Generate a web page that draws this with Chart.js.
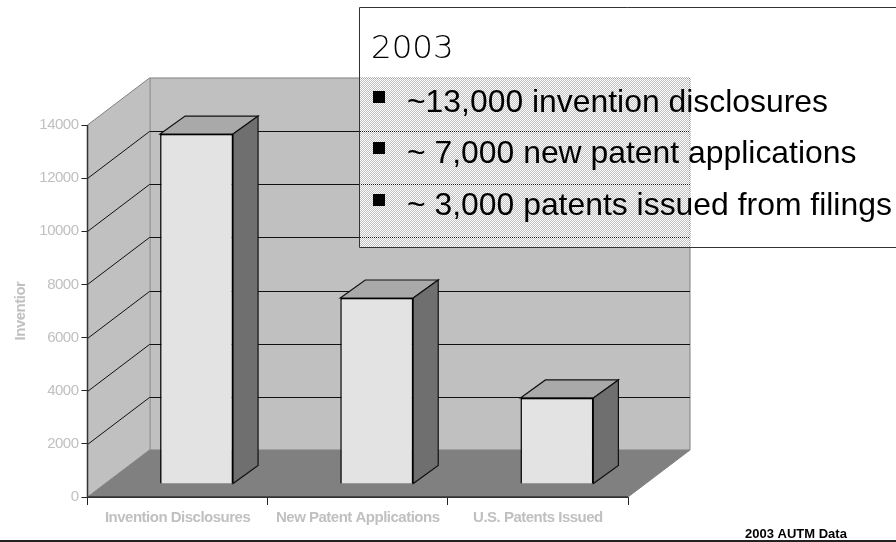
<!DOCTYPE html>
<html><head><meta charset="utf-8">
<style>html,body{margin:0;padding:0;background:#fff}#w{position:relative;width:896px;height:542px}canvas{display:block}</style>
<script src="https://cdn.jsdelivr.net/npm/chart.js@4"></script></head>
<body><div id="w"><canvas id="c" width="896" height="542"></canvas></div>
<script>
const categories = ['Invention Disclosures', 'New Patent Applications', 'U.S. Patents Issued'];
const values = [13170, 7000, 3240];
const yTicks = [0, 2000, 4000, 6000, 8000, 10000, 12000, 14000];
const boxTitle = '2003';
const boxLines = ['~13,000 invention disclosures', '~ 7,000 new patent applications', '~ 3,000 patents issued from filings'];
const yTitle = 'Inventior';
const source = '2003 AUTM Data';

const DX = 62, DY = -47;        // wall depth
const BX = 19, BY = -13;        // bar set-back from the front of the floor
const SX = 25, SY = -18;        // bar depth

const pc = document.createElement('canvas'); pc.width = 2; pc.height = 2;
const pg = pc.getContext('2d'); pg.fillStyle = '#fff'; pg.fillRect(0,0,1,1); pg.fillRect(1,1,1,1);

function poly(ctx, pts, fill, stroke, lw){
  ctx.beginPath(); pts.forEach((p,i)=> i?ctx.lineTo(p[0],p[1]):ctx.moveTo(p[0],p[1])); ctx.closePath();
  if(fill){ctx.fillStyle=fill;ctx.fill();}
  if(stroke){ctx.strokeStyle=stroke;ctx.lineWidth=lw||1;ctx.stroke();}
}
const scene = {
  id:'scene',
  beforeDraw(chart){ chart.ctx.letterSpacing='-0.5px'; },
  beforeDatasetsDraw(chart){
    const {ctx, scales:{x,y}} = chart;
    const l=x.left, r=x.right, b=y.getPixelForValue(0), t=y.getPixelForValue(14000);
    ctx.save();
    poly(ctx,[[l+DX,t+DY],[r+DX,t+DY],[r+DX,b+DY],[l+DX,b+DY]],'#c0c0c0');
    poly(ctx,[[l,t],[l+DX,t+DY],[l+DX,b+DY],[l,b]],'#c0c0c0');
    poly(ctx,[[l,b],[l+DX,b+DY],[r+DX,b+DY],[r,b]],'#808080');
    ctx.strokeStyle='#808080'; ctx.lineWidth=1;
    ctx.beginPath();
    ctx.moveTo(l+DX+.5,t+DY); ctx.lineTo(l+DX+.5,b+DY);
    ctx.moveTo(l,t); ctx.lineTo(l+DX,t+DY); ctx.lineTo(r+DX,t+DY); ctx.lineTo(r+DX,b+DY); ctx.lineTo(r,b);
    ctx.moveTo(l,b); ctx.lineTo(l+DX,b+DY); ctx.lineTo(r+DX,b+DY);
    ctx.stroke();
    ctx.strokeStyle='#111';
    yTicks.slice(1,-1).forEach(v=>{
      const p=Math.round(y.getPixelForValue(v))+.5;
      ctx.beginPath(); ctx.moveTo(l,p); ctx.lineTo(l+DX,p+DY); ctx.lineTo(r+DX,p+DY); ctx.stroke();
    });
    ctx.strokeStyle='#333'; ctx.lineWidth=1.5;
    ctx.beginPath(); ctx.moveTo(l,t); ctx.lineTo(l,b); ctx.lineTo(r,b); ctx.stroke();
    chart.getDatasetMeta(0).data.forEach(el=>{
      const x0=el.x-el.width/2+BX, x1=el.x+el.width/2+BX, y0=el.y+BY, y1=el.base+BY;
      poly(ctx,[[x0,y0],[x0+SX,y0+SY],[x1+SX,y0+SY],[x1,y0]],'#a9a9a9','#111',1.2);
      poly(ctx,[[x1,y0],[x1+SX,y0+SY],[x1+SX,y1+SY],[x1,y1]],'#6f6f6f','#111',1.2);
    });
    ctx.restore();
  },
  beforeDatasetDraw(chart){ chart.ctx.save(); chart.ctx.translate(BX,BY); },
  afterDatasetDraw(chart){ chart.ctx.restore(); },
  afterDraw(chart){
    const ctx=chart.ctx;
    ctx.save();
    ctx.letterSpacing='0px';
    ctx.fillStyle=ctx.createPattern(pc,'repeat');
    ctx.fillRect(360,8,536,239);
    ctx.strokeStyle='#333'; ctx.lineWidth=1;
    ctx.beginPath(); ctx.moveTo(896,7.5); ctx.lineTo(359.5,7.5); ctx.lineTo(359.5,247.5); ctx.lineTo(896,247.5); ctx.stroke();
    ctx.fillStyle='#000'; ctx.textBaseline='alphabetic'; ctx.textAlign='left';
    ctx.font='200 32.5px "DejaVu Sans"';
    ctx.fillText(boxTitle,371,58);
    ctx.font='31.9px "Liberation Sans"';
    boxLines.forEach((s,i)=>{
      ctx.fillRect(373,[91,142,194][i],12,12);
      ctx.fillText(s,407,[112,163,215][i]);
    });
    ctx.font='bold 13px "Liberation Sans"';
    ctx.fillText(source,745,538);
    ctx.fillStyle='#222'; ctx.fillRect(0,540,896,2);
    ctx.restore();
  }
};
new Chart(document.getElementById('c'),{
  type:'bar',
  data:{labels:categories,datasets:[{data:values,backgroundColor:'#e3e3e3',borderColor:'#000',borderWidth:1.5,categoryPercentage:0.405,barPercentage:1}]},
  options:{
    responsive:false,animation:false,
    layout:{padding:{top:125,right:268,bottom:0,left:0}},
    plugins:{legend:{display:false},title:{display:false},tooltip:{enabled:false}},
    scales:{
      x:{afterFit(s){s.height=45;},
         grid:{drawOnChartArea:false,tickLength:8,tickColor:'#222',tickWidth:1,offset:true},
         border:{display:true,color:'#333'},
         ticks:{color:'#c0c0c0',maxRotation:0,autoSkip:false,padding:4,font:{family:'"Liberation Sans"',size:15,weight:'bold'}}},
      y:{afterFit(s){s.width=87.5;},min:0,max:14000,
         afterBuildTicks(s){s.ticks=yTicks.map(v=>({value:v}));},
         grid:{drawOnChartArea:false,tickLength:6,tickColor:'#222',tickWidth:1},
         border:{display:true,color:'#333'},
         title:{display:true,text:yTitle,color:'#c0c0c0',padding:{top:12,bottom:0},font:{family:'"Liberation Sans"',size:15,weight:'bold'}},
         ticks:{color:'#c0c0c0',padding:3,font:{family:'"Liberation Sans"',size:15},callback:v=>String(v)}}
    }
  },
  plugins:[scene]
});
</script></body></html>
